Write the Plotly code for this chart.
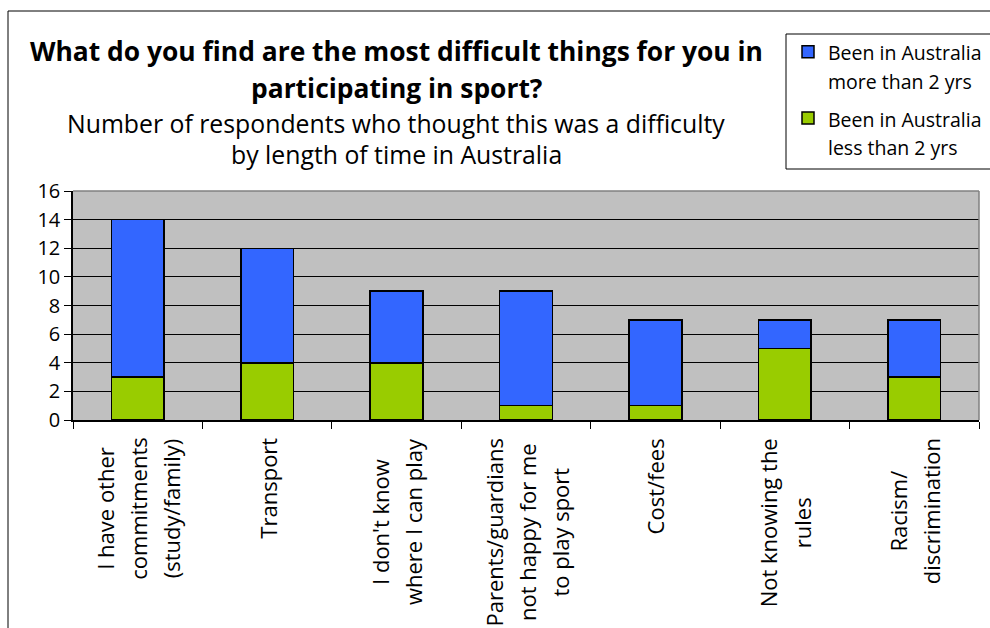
import plotly.graph_objects as go

# Survey data: respondents citing each difficulty, split by time in Australia
categories = [
    "I have other<br>commitments<br>(study/family)",
    "Transport",
    "I don't know<br>where I can play",
    "Parents/guardians<br>not happy for me<br>to play sport",
    "Cost/fees",
    "Not knowing the<br>rules",
    "Racism/<br>discrimination",
]
less_than_2_yrs = [3, 4, 4, 1, 1, 5, 3]
more_than_2_yrs = [11, 8, 5, 8, 6, 2, 4]
series_names = ["Been in Australia<br>less than 2 yrs", "Been in Australia<br>more than 2 yrs"]
y_ticks = [0, 2, 4, 6, 8, 10, 12, 14, 16]

FONT = "Open Sans"
W, H = 990, 628
L, R, T, B = 73, 11, 191, 208
PW, PH = W - L - R, H - T - B


def px(x):
    """Pixel x -> paper x."""
    return (x - L) / PW


def py(y):
    """Pixel y (from top) -> paper y."""
    return (H - B - y) / PH


def spaced(text, size):
    """Wrap each line in a smaller span so lines keep the wider spacing of the parent font."""
    return "<br>".join(f"<span style='font-size:{size}px'>{ln}</span>" for ln in text.split("<br>"))


fig = go.Figure()
fig.add_trace(go.Bar(
    x=categories, y=less_than_2_yrs, name=spaced(series_names[0], 19.5),
    legendgroup="less", legendrank=2,
    marker=dict(color="#99CC00", line=dict(color="black", width=1.5)),
))
fig.add_trace(go.Bar(
    x=categories, y=more_than_2_yrs, name=spaced(series_names[1], 19.5),
    legendgroup="more", legendrank=1,
    marker=dict(color="#3366FF", line=dict(color="black", width=1.5)),
))

annotations = []
# Title and subtitle, line by line
for text, y, size, bold in [
    ("What do you find are the most difficult things for you in", 51, 26.4, True),
    ("participating in sport?", 88.5, 26.4, True),
    ("Number of respondents who thought this was a difficulty", 122.5, 24.8, False),
    ("by length of time in Australia", 154.5, 24.8, False),
]:
    annotations.append(dict(
        text=f"<b>{text}</b>" if bold else text,
        xref="paper", yref="paper", x=px(396), y=py(y),
        xanchor="center", yanchor="middle", showarrow=False,
        font=dict(family=FONT, size=size, color="black"),
    ))

# Rotated category labels under the axis
for cat in categories:
    annotations.append(dict(
        text=spaced(cat, 22), x=cat, xref="x", yref="paper", y=py(436),
        xanchor="center", yanchor="top", textangle=-90, showarrow=False,
        font=dict(family=FONT, size=25.5, color="black"),
    ))

shapes = [
    # outer frame
    dict(type="rect", xref="paper", yref="paper",
         x0=px(8), x1=px(1005), y0=py(660), y1=py(11),
         line=dict(color="black", width=1), fillcolor="rgba(0,0,0,0)"),
    # legend frame
    dict(type="rect", xref="paper", yref="paper",
         x0=px(786), x1=px(1005), y0=py(169), y1=py(34),
         line=dict(color="black", width=1), fillcolor="rgba(0,0,0,0)"),
    # grey top and right edges of the plot area
    dict(type="line", xref="paper", yref="paper", x0=0, x1=1, y0=1, y1=1,
         line=dict(color="#808080", width=1.5)),
    dict(type="line", xref="paper", yref="paper", x0=1, x1=1, y0=0, y1=1,
         line=dict(color="#808080", width=1.5)),
]

fig.update_layout(
    width=W, height=H,
    margin=dict(l=L, r=R, t=T, b=B, pad=0, autoexpand=False),
    barmode="stack", bargap=0.593,
    plot_bgcolor="#C0C0C0", paper_bgcolor="white",
    font=dict(family=FONT, color="black"),
    showlegend=True,
    legend=dict(
        x=px(788), y=py(31), xanchor="left", yanchor="top",
        bgcolor="rgba(0,0,0,0)", borderwidth=0, traceorder="grouped",
        tracegroupgap=6,
        font=dict(family=FONT, size=22, color="black"), valign="top",
    ),
    xaxis=dict(
        showticklabels=False, ticks="outside", tickson="boundaries",
        ticklen=7, tickcolor="black", showline=True, linecolor="black",
        linewidth=1.5, showgrid=False,
    ),
    yaxis=dict(
        range=[0, 16], tickvals=y_ticks, ticks="outside", ticklen=7,
        tickcolor="black", showline=True, linecolor="black", linewidth=1.5,
        showgrid=True, gridcolor="black", gridwidth=1, zeroline=False,
        tickfont=dict(family=FONT, size=20, color="black"),
    ),
    annotations=annotations,
    shapes=shapes,
)

fig.write_html("out.html")
